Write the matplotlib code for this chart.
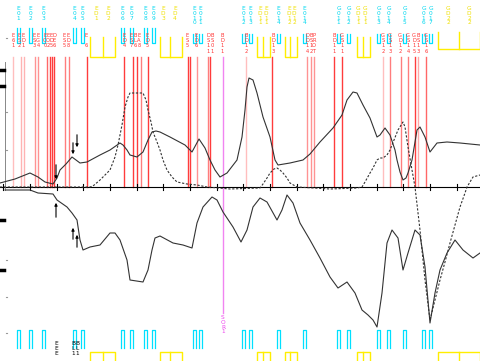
import numpy as np
import matplotlib
matplotlib.use('Agg')
import matplotlib.pyplot as plt

# profile traces (x position, height above / depth below the track axis)
up_solid_x = [0, 15, 30, 38, 45, 53, 57, 60, 66, 72, 76, 80, 87, 100, 110, 120, 123, 127, 130, 137, 143, 148, 152, 156, 160, 170, 185, 192, 199, 205, 210, 215, 220, 227, 237, 242, 245, 247, 249, 253, 257, 263, 270, 275, 278, 290, 303, 310, 320, 333, 342, 347, 353, 357, 363, 370, 377, 380, 385, 390, 395, 397, 400, 403, 406, 408, 412, 417, 420, 425, 430, 437, 447, 460, 480]
up_solid_v = [4, 8, 14, 10, 5, 3, 9, 17, 23, 30, 27, 24, 25, 32, 37, 44, 42, 37, 32, 30, 35, 47, 55, 56, 55, 50, 42, 35, 48, 39, 27, 17, 10, 14, 27, 50, 77, 100, 109, 107, 94, 70, 50, 27, 22, 24, 27, 33, 45, 59, 72, 87, 95, 94, 82, 69, 50, 52, 59, 52, 37, 27, 15, 7, 9, 14, 27, 57, 60, 50, 35, 44, 45, 44, 42]

up_dash_x = [0, 90, 93, 100, 110, 115, 118, 122, 125, 128, 130, 143, 146, 148, 151, 153, 157, 160, 163, 167, 172, 177, 187, 197, 207, 230, 260, 263, 267, 270, 274, 277, 280, 283, 287, 290, 297, 330, 357, 362, 365, 370, 373, 377, 380, 383, 387, 390, 394, 398, 403, 405, 408, 412, 415, 420, 425, 430, 435, 440, 445, 450, 455, 460, 465, 467, 473, 480]
up_dash_v = [0, 0, 1, 7, 17, 30, 42, 62, 80, 90, 94, 94, 87, 77, 65, 55, 45, 37, 27, 17, 10, 5, 3, 2, 0, -2, -1, 3, 9, 14, 18, 19, 17, 14, 9, 4, 0, -2, -1, 0, 5, 14, 19, 27, 29, 29, 32, 37, 47, 57, 65, 60, 40, 17, 0, -43, -93, -133, -113, -93, -75, -56, -38, -20, -6, 0, 10, 12]

low_x = [5, 30, 38, 53, 57, 67, 72, 77, 80, 83, 90, 100, 110, 115, 120, 127, 130, 143, 148, 152, 155, 160, 173, 183, 192, 197, 203, 212, 217, 223, 233, 241, 247, 253, 260, 267, 277, 282, 287, 293, 300, 310, 320, 330, 338, 347, 355, 362, 368, 373, 377, 382, 387, 392, 398, 403, 408, 415, 420, 425, 430, 435, 440, 447, 455, 463, 473, 480]
low_v = [3, 3, 6, 7, 13, 20, 26, 33, 53, 63, 60, 58, 46, 46, 53, 73, 93, 95, 83, 63, 51, 49, 56, 58, 61, 36, 20, 10, 13, 25, 40, 55, 43, 20, 11, 15, 33, 23, 8, 16, 36, 53, 71, 90, 101, 95, 106, 123, 128, 133, 140, 106, 56, 43, 51, 83, 66, 43, 48, 80, 136, 106, 83, 66, 53, 63, 71, 66]

# red feature lines (position, intensity) and their labels
red_pos = [13, 21, 24, 35, 38, 47, 50, 52, 54, 65, 69, 87, 124, 133, 137, 141, 148, 188, 190, 197, 208, 210, 246, 272, 307, 311, 314, 334, 342, 383, 390, 401, 408, 415, 418, 426]
red_int = [0.3, 0.35, 0.35, 0.5, 0.5, 0.7, 0.9, 0.9, 0.9, 0.6, 0.6, 0.9, 0.9, 0.9, 0.9, 0.6, 0.9, 0.9, 0.9, 0.5, 0.6, 0.9, 0.3, 0.9, 0.5, 0.5, 0.5, 0.9, 0.9, 0.3, 0.6, 0.6, 0.6, 0.9, 0.4, 0.7]
red_lab_x = [13, 19, 23, 34, 38, 45, 48, 51, 54, 64, 68, 86, 124, 131, 135, 139, 147, 187, 196, 208, 212, 222, 246, 273, 307, 311, 314, 334, 342, 383, 390, 400, 408, 414, 418, 426]
red_lab = ['E61', 'ES2', 'ED1', 'ES3', 'EG4', 'EC0', 'EO2', 'ED5', 'DE6', 'ES5', 'ED8', 'E 6', 'ED4', 'ES7', 'BL6', 'EA8', 'ED5', 'ES5', 'ED6', 'DS11', 'BS01', 'BD11', 'BD12', 'BD13', 'DD14', 'BS12', 'PROT', 'BD11', 'GS11', 'GS12', 'GS13', 'GD12', 'GS14', 'GD15', 'BS13', 'GS16']

cyan_pos = [17, 29, 42, 73, 81, 121, 130, 144, 152, 193, 199, 242, 249, 277, 303, 337, 347, 377, 387, 403, 422, 429]
cyan_lab = ['E01', 'E02', 'E03', 'E04', 'E05', 'E06', 'E07', 'E08', 'E09', 'E010', 'E011', 'E012', 'E013', 'E014', 'E014', 'G011', 'G012', 'G013', 'G014', 'G015', 'G016', 'G017']

yellow_groups = [(90, 103, 115), (160, 170, 182), (257, 263, 270), (285, 290, 297), (357, 363, 370), (438, 459, 480)]
yellow_lab_x = [96, 108, 163, 175, 260, 266, 289, 294, 358, 365, 448, 469]
yellow_lab = ['ED1', 'ED2', 'ED3', 'ED4', 'ED11', 'ED11', 'ED12', 'ED12', 'GD11', 'GD11', 'GD22', 'GD22']

arrow_x = [56, 73, 77]
arrow_end = [182, 157, 150]
arrow_len = [20, 17, 18]

BASE = 187
fs = 4.2

fig = plt.figure(figsize=(4.81, 3.61), dpi=100)
ax = fig.add_axes([0, 0, 1, 1])
ax.set_xlim(0, 481)
ax.set_ylim(361, 0)
ax.axis('off')

# red lines + labels
for x, a in zip(red_pos, red_int):
    ax.plot([x, x], [57, BASE], color='red', alpha=a * 0.85, lw=1)
for x, s in zip(red_lab_x, red_lab):
    ax.text(x, 33, '\n'.join(s), color='#ff3030', fontsize=3.7, ha='center', va='top', linespacing=1.05)

# magenta marker
ax.plot([223, 223], [57, 313], color='#ee66ee', lw=1, alpha=0.8)
ax.text(223, 315, '\n'.join('SOR1'), color='#ee44ee', fontsize=fs, ha='center', va='top', linespacing=0.95)

# cyan features top and bottom
for x, s in zip(cyan_pos, cyan_lab):
    ax.text(x + 1.5, 6, '\n'.join(s), color='#00d8f0', fontsize=fs, ha='center', va='top', linespacing=0.95)
    top = 8 + 6.5 * len(s)
    ax.plot([x, x, x + 3, x + 3], [top, 43, 43, top], color='#00e0ff', lw=0.9)
    ax.plot([x, x, x + 3, x + 3], [348, 330, 330, 348], color='#00e0ff', lw=0.9)

# yellow features top and bottom
for g in yellow_groups:
    top = 32 if g[0] > 400 else 37
    bot = 49 if g[0] > 400 else 57
    ax.plot([g[0], g[0], g[2], g[2]], [top, bot, bot, top], color='#ffee00', lw=1)
    ax.plot([g[1], g[1]], [top, bot], color='#ffee00', lw=1)
    ax.plot([g[0], g[0], g[2], g[2]], [361, 352, 352, 361], color='#ffee00', lw=1)
    ax.plot([g[1], g[1]], [352, 361], color='#ffee00', lw=1)
for x, s in zip(yellow_lab_x, yellow_lab):
    ax.text(x, 6, '\n'.join(s), color='#f0e000', fontsize=fs, ha='center', va='top', linespacing=0.95)

# track axis with ticks
ax.plot([0, 481], [BASE, BASE], color='black', lw=0.8)
for t in np.arange(10 / 3, 481, 80 / 3):
    ax.plot([t, t], [BASE - 3, BASE + 3], color='black', lw=0.8)
ax.plot([5, 5], [62, 190], color='#888888', lw=0.7)

# profiles
ax.plot(up_solid_x, BASE - np.array(up_solid_v), color='#333333', lw=0.8)
ax.plot(up_dash_x, BASE - np.array(up_dash_v), color='#333333', lw=0.8, ls=(0, (2, 1.5)))
ax.plot(low_x, BASE + np.array(low_v), color='#333333', lw=0.8)

# arrows
for x, yend, L in zip(arrow_x, arrow_end, arrow_len):
    ax.annotate('', xy=(x, yend), xytext=(x, yend - L),
                arrowprops=dict(arrowstyle='-|>', lw=0.8, color='black', mutation_scale=4))
    ylow = 2 * BASE - yend + 8
    ax.annotate('', xy=(x, ylow), xytext=(x, ylow + L),
                arrowprops=dict(arrowstyle='-|>', lw=0.8, color='black', mutation_scale=4))

# left margin marks
for y in [70, 86, 220, 270]:
    ax.plot([0, 4], [y, y], color='black', lw=2.5)
for y in [38, 112, 150, 260, 297, 333]:
    ax.plot([6, 7.5], [y, y], color='#999999', lw=0.8)

# bottom labels
ax.text(56, 341, '\n'.join('EEE'), color='black', fontsize=fs, ha='center', va='top', linespacing=0.95)
ax.text(73, 341, '\n'.join('BL1'), color='black', fontsize=fs, ha='center', va='top', linespacing=0.95)
ax.text(77, 341, '\n'.join('BL1'), color='black', fontsize=fs, ha='center', va='top', linespacing=0.95)

fig.savefig('out.png', dpi=100)
